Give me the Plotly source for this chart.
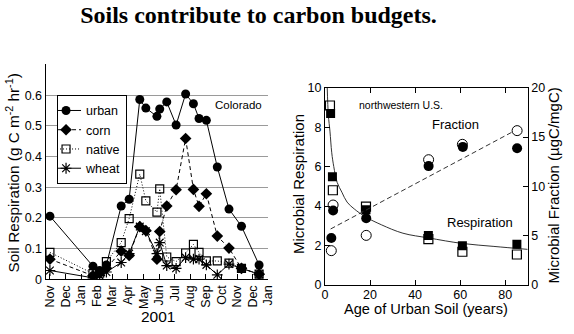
import plotly.graph_objects as go

# ---------------- Left panel data (Colorado) ----------------
month_labels = ["Nov", "Dec", "Jan", "Feb", "Mar", "Apr", "May", "Jun", "Jul",
                "Aug", "Sep", "Oct", "Nov", "Dec", "Jan"]
month_ticks = list(range(len(month_labels)))  # months since Nov 2000

sample_months = [0, 2.76, 3.19, 3.62, 4.57, 5.08, 5.76, 6.15, 6.86, 7.04, 7.49,
                 8.09, 8.70, 9.20, 9.56, 10.03, 10.73, 11.48, 12.28, 13.41]
urban = [0.206, 0.043, 0.029, 0.047, 0.239, 0.261, 0.586, 0.558, 0.531, 0.555, 0.578,
         0.503, 0.604, 0.572, 0.524, 0.518, 0.366, 0.229, 0.173, 0.047]
corn = [0.066, 0.012, 0.020, 0.036, 0.092, 0.078, 0.172, 0.159, 0.066, 0.156, 0.239,
        0.292, 0.459, 0.293, 0.238, 0.279, 0.141, 0.102, 0.036, 0.017]
native = [0.088, 0.019, 0.020, 0.058, 0.120, 0.198, 0.343, 0.256, 0.219, 0.295, 0.073,
          0.058, 0.086, 0.114, 0.088, 0.060, 0.060, 0.053, 0.036, 0.017]
wheat = [0.029, 0.005, 0.012, 0.024, 0.055, 0.084, 0.172, 0.157, 0.084, 0.120, 0.045,
         0.036, 0.071, 0.066, 0.066, 0.047, 0.015, 0.050, 0.036, 0.017]
left_yticks = [0, 0.1, 0.2, 0.3, 0.4, 0.5, 0.6]
left_yticktext = ["0", "0.1", "0.2", "0.3", "0.4", "0.5", "0.6"]

# ---------------- Right panel data (northwestern U.S.) ----------------
resp_filled_age = [2.5, 3.3, 18.2, 45.9, 61.0, 85.2]
resp_filled = [8.7, 5.48, 3.81, 2.50, 1.99, 2.06]
resp_open_age = [2.2, 3.5, 18.2, 45.9, 61.0, 85.2]
resp_open = [9.1, 4.80, 3.97, 2.32, 1.68, 1.54]
frac_filled_age = [2.8, 3.6, 18.3, 46.0, 61.2, 85.3]
frac_filled = [4.76, 7.55, 6.75, 12.05, 14.0, 13.87]
frac_open_age = [2.8, 3.6, 18.3, 46.0, 61.0, 85.3]
frac_open = [3.47, 8.10, 5.02, 12.7, 14.26, 15.65]
# fitted curves
resp_fit_age = [1.0, 1.5, 2.2, 3.0, 3.9, 5.4, 7.5, 9.8, 13, 18, 25, 34.6, 46, 61, 75, 90]
resp_fit = [10.0, 8.6, 7.8, 6.7, 6.0, 5.2, 4.7, 4.2, 3.85, 3.45, 3.05, 2.62, 2.38, 2.1, 1.95, 1.8]
frac_fit_age = [2.5, 82.9]
frac_fit = [5.67, 15.48]

SANS = "Liberation Sans, Arial, Helvetica, sans-serif"
BLACK = "black"

fig = go.Figure()

# Left panel traces
fig.add_trace(go.Scatter(x=sample_months, y=urban, name="urban", mode="lines+markers",
                         line=dict(color=BLACK, width=1),
                         marker=dict(symbol="circle", size=9, color=BLACK),
                         xaxis="x", yaxis="y"))
fig.add_trace(go.Scatter(x=sample_months, y=corn, name="corn", mode="lines+markers",
                         line=dict(color=BLACK, width=1, dash="4px,3px"),
                         marker=dict(symbol="diamond", size=9, color=BLACK),
                         xaxis="x", yaxis="y"))
fig.add_trace(go.Scatter(x=sample_months, y=native, name="native", mode="lines+markers",
                         line=dict(color=BLACK, width=1, dash="1px,2px"),
                         marker=dict(symbol="square-open", size=8, color=BLACK,
                                     line=dict(width=1.2, color=BLACK)),
                         xaxis="x", yaxis="y"))
fig.add_trace(go.Scatter(x=sample_months, y=wheat, name="wheat", mode="lines+markers",
                         line=dict(color=BLACK, width=1),
                         marker=dict(symbol="asterisk-open", size=9, color=BLACK,
                                     line=dict(width=1.2, color=BLACK)),
                         xaxis="x", yaxis="y"))

# Right panel traces
fig.add_trace(go.Scatter(x=resp_fit_age, y=resp_fit, mode="lines", showlegend=False,
                         line=dict(color="#333", width=1, shape="spline"),
                         xaxis="x2", yaxis="y2"))
fig.add_trace(go.Scatter(x=frac_fit_age, y=frac_fit, mode="lines", showlegend=False,
                         line=dict(color="#333", width=1, dash="5px,3px"),
                         xaxis="x2", yaxis="y3"))
fig.add_trace(go.Scatter(x=resp_filled_age, y=resp_filled, mode="markers", showlegend=False,
                         marker=dict(symbol="square", size=9, color=BLACK),
                         xaxis="x2", yaxis="y2"))
fig.add_trace(go.Scatter(x=resp_open_age, y=resp_open, mode="markers", showlegend=False,
                         marker=dict(symbol="square-open", size=9, color=BLACK,
                                     line=dict(width=1.2, color=BLACK)),
                         xaxis="x2", yaxis="y2"))
fig.add_trace(go.Scatter(x=frac_filled_age, y=frac_filled, mode="markers", showlegend=False,
                         marker=dict(symbol="circle", size=10, color=BLACK),
                         xaxis="x2", yaxis="y3"))
fig.add_trace(go.Scatter(x=frac_open_age, y=frac_open, mode="markers", showlegend=False,
                         marker=dict(symbol="circle-open", size=10, color=BLACK,
                                     line=dict(width=1, color=BLACK)),
                         xaxis="x2", yaxis="y3"))

W, H = 574, 334
def px(x):
    return x / W
def py(y):
    return 1 - y / H

axis_common = dict(showline=True, linecolor=BLACK, linewidth=1, zeroline=False,
                   tickfont=dict(family=SANS, size=12.5, color=BLACK), tickcolor=BLACK)

fig.update_layout(
    width=W, height=H,
    margin=dict(l=0, r=0, t=0, b=0),
    paper_bgcolor="white", plot_bgcolor="white",
    font=dict(family=SANS, color=BLACK),
    title=dict(text="<b>Soils contribute to carbon budgets.</b>",
               font=dict(family="Liberation Serif, Times New Roman, serif", size=24, color=BLACK),
               x=px(258.5), xanchor="center", y=py(15), yanchor="middle"),
    showlegend=True,
    legend=dict(x=px(55), y=py(91.7), xanchor="left", yanchor="top",
                bgcolor="white", bordercolor=BLACK, borderwidth=1,
                font=dict(family=SANS, size=12.5, color=BLACK),
                itemwidth=30, tracegroupgap=0, indentation=-12),
    xaxis=dict(domain=[px(43.3), px(270)], range=[-0.28, 14.0],
               tickvals=month_ticks, ticktext=month_labels, tickangle=-90,
               ticks="inside", ticklen=5, showgrid=False, anchor="y", **axis_common),
    yaxis=dict(domain=[py(284.3), py(60)], range=[0, 0.7],
               tickvals=left_yticks, ticktext=left_yticktext,
               ticks="", showgrid=True, gridcolor="#9a9a9a", gridwidth=1,
               anchor="x", **axis_common),
    xaxis2=dict(domain=[px(327.7), px(534)], range=[0, 90],
                tickvals=[0, 20, 40, 60, 80], ticks="inside", ticklen=5,
                ticklabelstandoff=-2,
                mirror="ticks", showgrid=False, anchor="y2", **axis_common),
    yaxis2=dict(domain=[py(290), py(84.3)], range=[0, 10],
                tickvals=[0, 2, 4, 6, 8, 10], ticks="inside", ticklen=5,
                showgrid=False, anchor="x2", **axis_common),
    yaxis3=dict(domain=[py(290), py(84.3)], range=[0, 20], overlaying="y2", side="right",
                tickvals=[0, 5, 10, 15, 20], ticks="inside", ticklen=5,
                showgrid=False, anchor="x2", **axis_common),
)

def note(text, x, y, size, angle=0):
    fig.add_annotation(text=text, x=px(x), y=py(y), xref="paper", yref="paper",
                       xanchor="center", yanchor="middle", showarrow=False,
                       textangle=angle, borderpad=0,
                       font=dict(family=SANS, size=size, color=BLACK))

note("Soil Respiration (g C m<sup>-2</sup> hr<sup>-1</sup>)", 10, 173, 15.3, -90)
note("2001", 157.5, 323, 15.5)
note("Colorado", 239.3, 102.7, 11.5)
note("Microbial Respiration", 300, 185, 15, -90)
note("Microbial Fraction (µgC/mgC)", 560, 186, 15, -90)
note("Age of Urban Soil (years)", 430.5, 315, 14.6)
note("northwestern U.S.", 404.7, 102.7, 10.5)
note("Fraction", 461, 122.7, 13)
note("Respiration", 485, 225, 13)

fig.write_html("out.html")
